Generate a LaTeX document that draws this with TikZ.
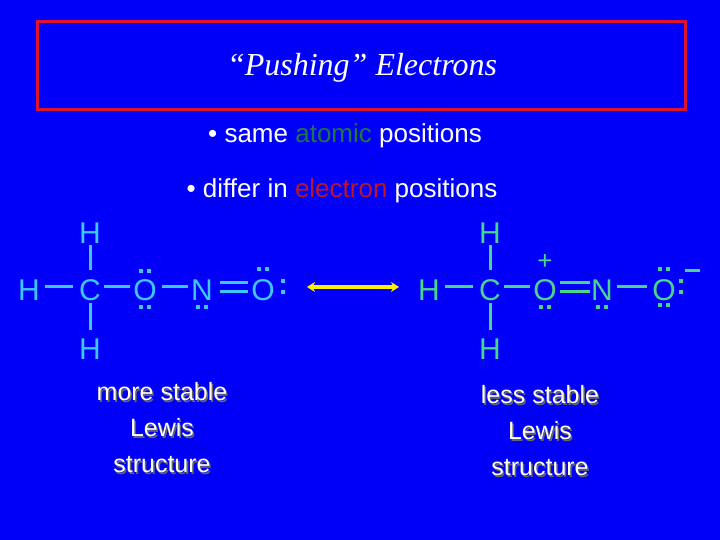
\documentclass[tikz,border=0pt]{standalone}
\usepackage{fontspec}
\setmainfont{Liberation Sans}
\newfontfamily\titlefont{Liberation Serif}
\usetikzlibrary{arrows.meta}
\definecolor{bg}{RGB}{0,0,250}
\definecolor{cyanL}{RGB}{60,200,255}
\definecolor{greenR}{RGB}{70,215,140}
\definecolor{atomg}{RGB}{30,120,60}
\definecolor{elecr}{RGB}{190,20,40}
\definecolor{ttl}{RGB}{220,20,50}
\begin{document}
\begin{tikzpicture}[x=1pt,y=-1pt,
  atomL/.style={text=cyanL,font=\fontsize{30}{30}\selectfont,inner sep=0pt},
  atomR/.style={text=greenR,font=\fontsize{30}{30}\selectfont,inner sep=0pt},
  bondL/.style={draw=cyanL,line width=3pt},
  bondR/.style={draw=greenR,line width=3pt},
  dotL/.style={fill=cyanL},
  dotR/.style={fill=greenR},
  lbl/.style={text=white,font=\fontsize{25}{36}\selectfont,align=center},
  shd/.style={text=black!60,font=\fontsize{25}{36}\selectfont,align=center}]
\fill[bg] (0,0) rectangle (720,540);
\useasboundingbox (0,0) rectangle (720,540);
\draw[ttl,line width=3pt] (37,22) rectangle (685,110);
\node[text=white,font=\titlefont\itshape\fontsize{32}{32}\selectfont] (title) at (362,68) {“Pushing” Electrons};
\node[text=white,font=\fontsize{26}{26}\selectfont] (b1) at (345,136) {• same \textcolor{atomg}{atomic} positions};
\node[text=white,font=\fontsize{26}{26}\selectfont] (b2) at (342,191) {• differ in \textcolor{elecr}{electron} positions};
% left molecule
\node[atomL] (lHt) at (90,233) {H};
\node[atomL] (lHl) at (29,290) {H};
\node[atomL] (lC) at (90,290) {C};
\node[atomL] (lO1) at (145,290) {O};
\node[atomL] (lN) at (202,290) {N};
\node[atomL] (lO2) at (263,290) {O};
\node[atomL] (lHb) at (90,349) {H};
\draw[bondL] (90,245) -- (90,270);
\draw[bondL] (90,303) -- (90,330);
\draw[bondL] (45,286) -- (73,286);
\draw[bondL] (104,286) -- (130,286);
\draw[bondL] (162,286) -- (188,286);
\draw[bondL] (220,282.5) -- (248,282.5);
\draw[bondL] (220,291) -- (248,291);
\foreach \x/\y in {141/271,149/271,141/307,149/307,198/307,206/307,259/269,267/269,283/281,283/292}
  \fill[dotL] (\x-2,\y-2) rectangle (\x+2,\y+2);
% arrow
\coordinate (aL) at (307,287);
\coordinate (aR) at (399,287);
\draw[yellow,line width=3.5pt,{Stealth[length=8pt,width=10pt]}-{Stealth[length=8pt,width=10pt]}] (aL) -- (aR);
% right molecule
\node[atomR] (rHt) at (490,233) {H};
\node[atomR] (rHl) at (429,290) {H};
\node[atomR] (rC) at (490,290) {C};
\node[atomR] (rO1) at (545,290) {O};
\node[atomR] (rN) at (602,290) {N};
\node[atomR] (rO2) at (664,290) {O};
\node[atomR] (rHb) at (490,349) {H};
\node[atomR,font=\fontsize{26}{26}\selectfont] (plus) at (545,262) {+};
\draw[bondR] (685,270) -- (700,270);
\draw[bondR] (490,245) -- (490,270);
\draw[bondR] (490,303) -- (490,330);
\draw[bondR] (445,286) -- (473,286);
\draw[bondR] (504,286) -- (530,286);
\draw[bondR] (560,282.5) -- (590,282.5);
\draw[bondR] (560,291) -- (590,291);
\draw[bondR] (617,286) -- (647,286);
\foreach \x/\y in {541/307,549/307,598/307,606/307,660/269,668/269,681/281,681/292,660/305,668/305}
  \fill[dotR] (\x-2,\y-2) rectangle (\x+2,\y+2);
% labels
\node[shd] at (163.5,429.5) {more stable\\Lewis\\structure};
\node[lbl] (lt1) at (162,428) {more stable\\Lewis\\structure};
\node[shd] at (541.5,432.5) {less stable\\Lewis\\structure};
\node[lbl] (lt2) at (540,431) {less stable\\Lewis\\structure};
\end{tikzpicture}
\end{document}
